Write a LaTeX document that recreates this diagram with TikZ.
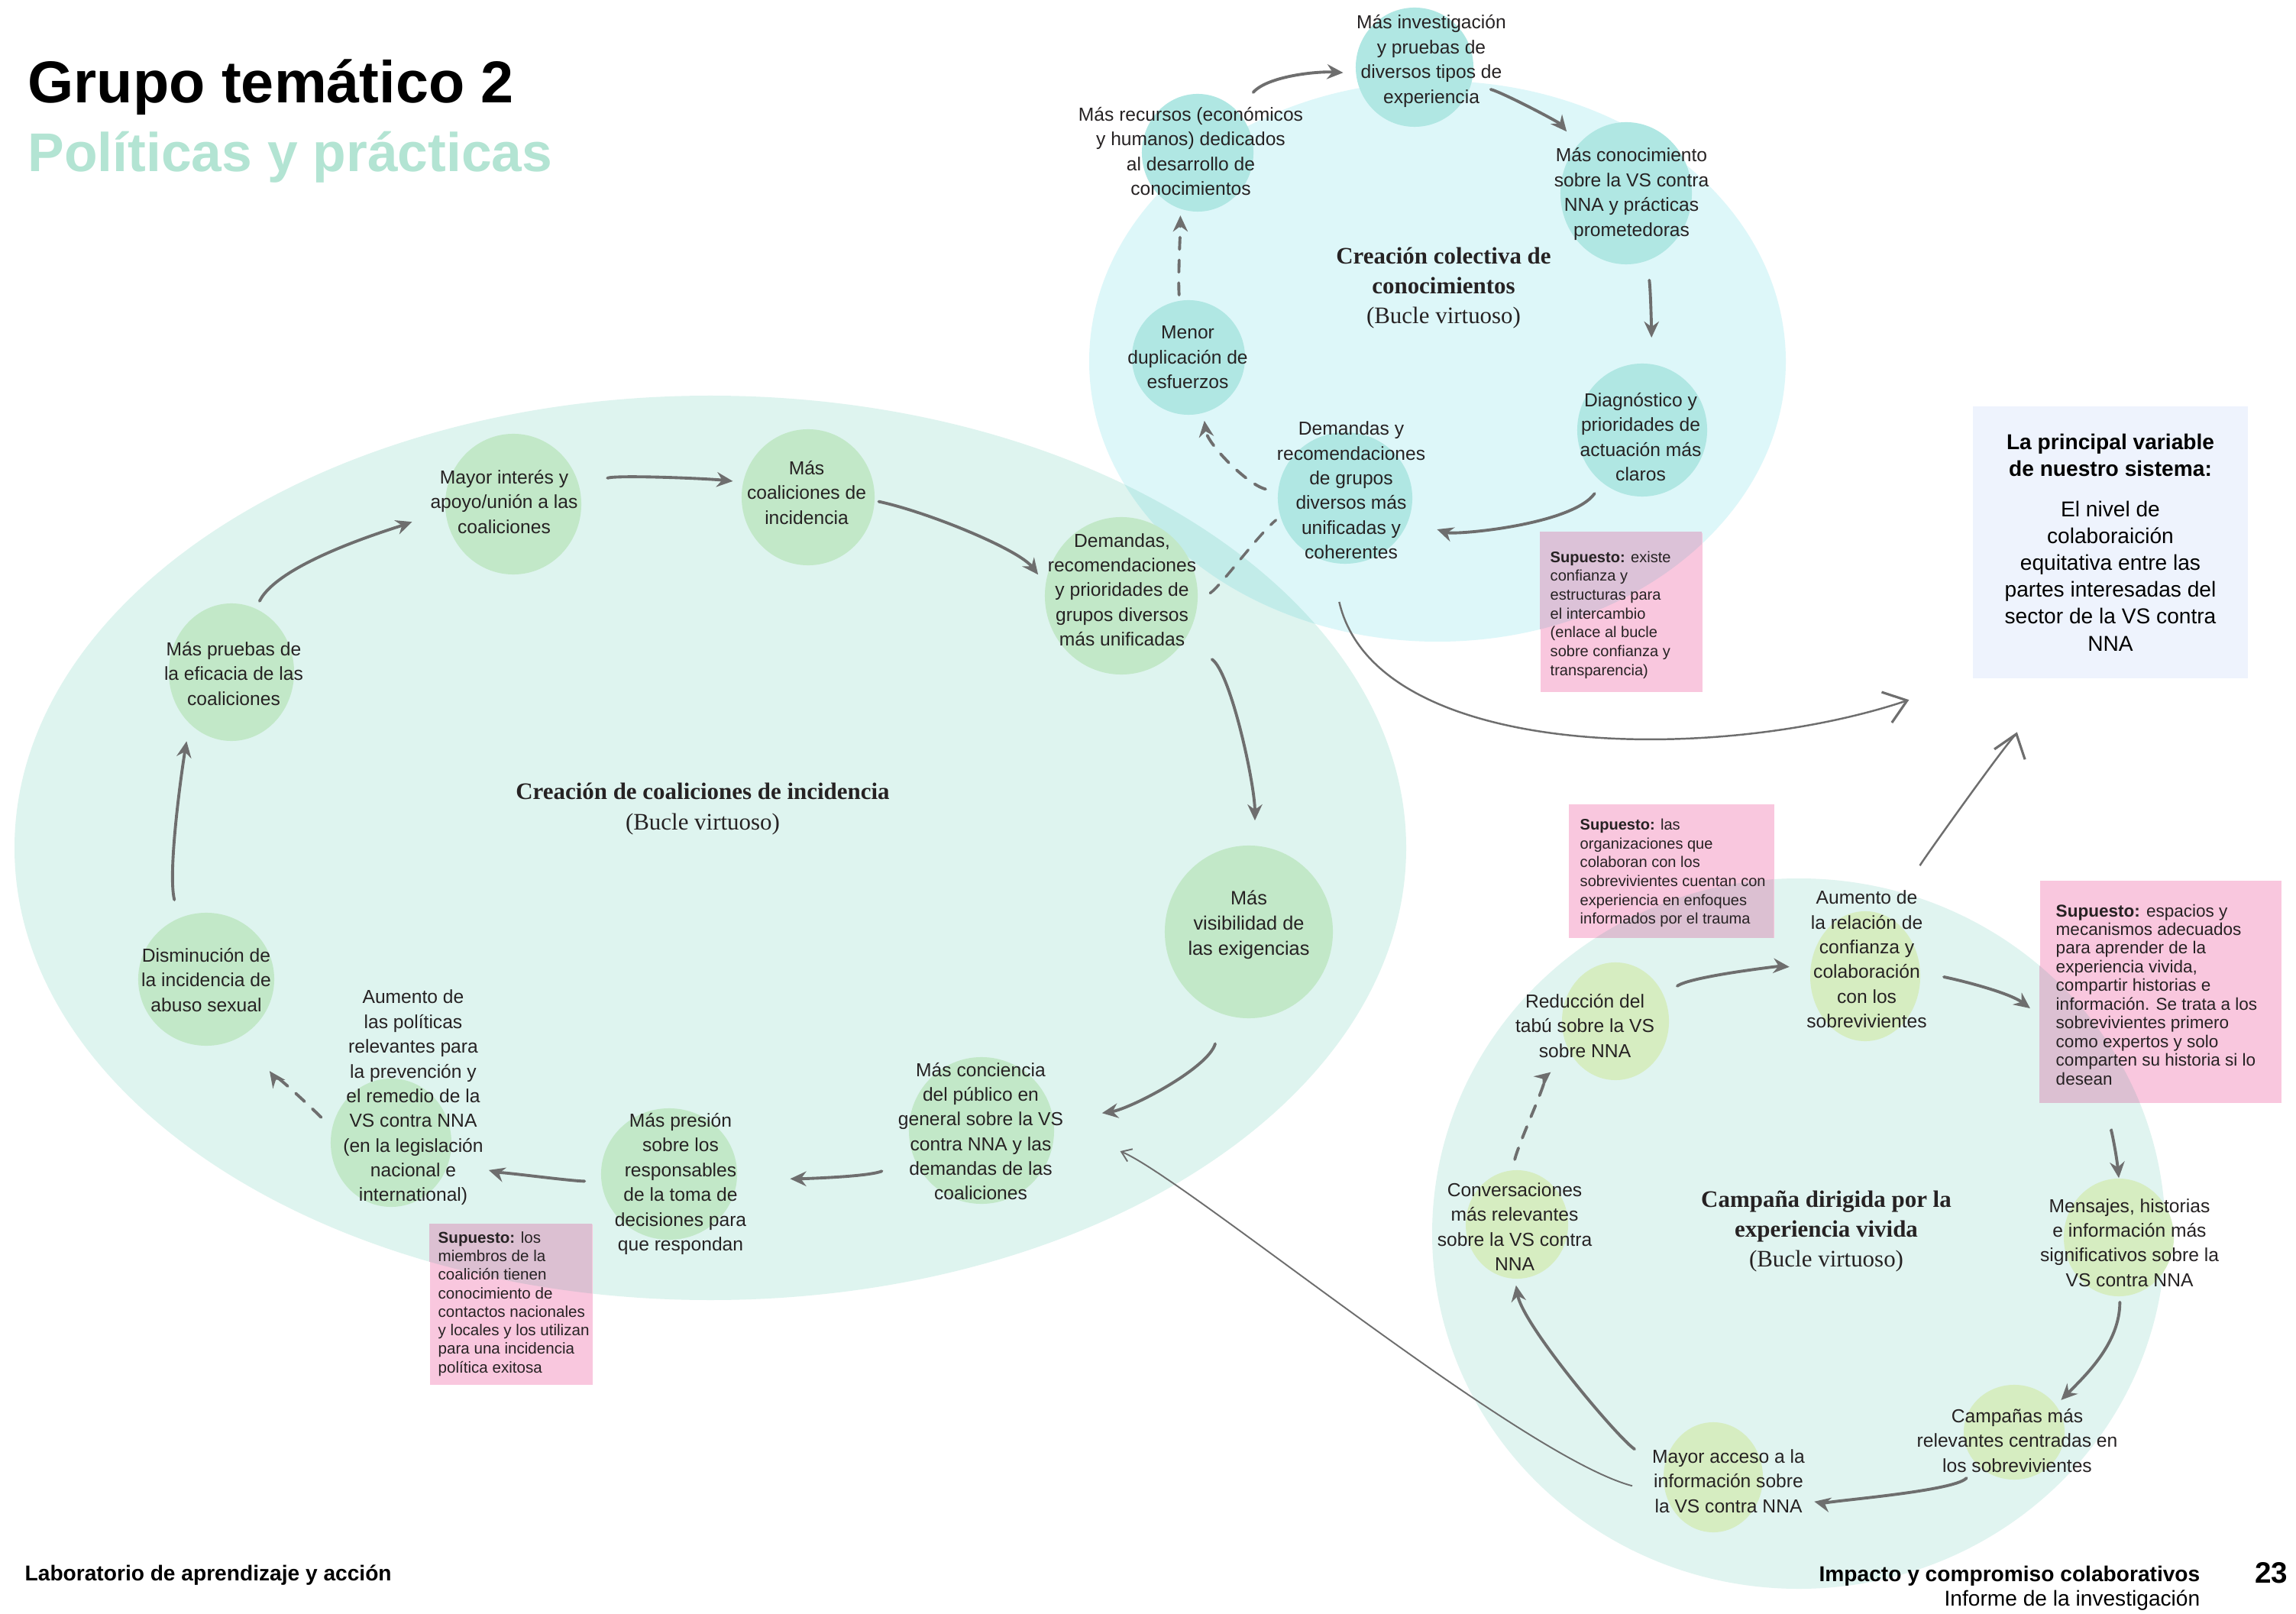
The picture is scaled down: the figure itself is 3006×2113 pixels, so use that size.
\documentclass[tikz,border=0pt]{standalone}
\usepackage{fontspec}
\setmainfont{Liberation Sans}
\newfontfamily\ttlserif{Liberation Serif}
\usetikzlibrary{arrows.meta,shapes.geometric}

\definecolor{leftbg}{RGB}{222,244,239}
\definecolor{topbg}{RGB}{221,247,249}
\definecolor{botbg}{RGB}{224,244,240}
\definecolor{overlapbg}{RGB}{194,236,233}
\definecolor{greenblob}{RGB}{194,232,200}
\definecolor{tealblob}{RGB}{176,231,227}
\definecolor{limeblob}{RGB}{214,237,193}
\definecolor{pinknote}{RGB}{249,199,222}
\definecolor{pinkcyan}{RGB}{220,194,216}
\definecolor{pinkmint}{RGB}{220,192,210}
\definecolor{boxblue}{RGB}{238,243,253}
\definecolor{titlegreen}{RGB}{179,228,211}
\definecolor{arrowgray}{RGB}{110,110,110}
\definecolor{inkc}{RGB}{38,34,35}

\begin{document}
\begin{tikzpicture}[x=0.01cm,y=-0.01cm,
  blob/.style={ellipse, inner sep=0pt, draw=none},
  gblob/.style={blob, fill=greenblob},
  tblob/.style={blob, fill=tealblob},
  lblob/.style={blob, fill=limeblob},
  lbl/.style={align=center, inner sep=0pt, text=inkc, font=\fontsize{7}{9.2}\selectfont},
  looptitle/.style={align=center, inner sep=0pt, text=inkc, font=\ttlserif\fontsize{8.8}{11.2}\selectfont},
  notebox/.style={rectangle, fill=pinknote, inner sep=0pt, anchor=north west},
  notetext/.style={align=left, inner sep=0pt, anchor=west, text=inkc, font=\fontsize{5.7}{7}\selectfont},
  conn/.style={draw=arrowgray, line width=1.1pt, line cap=round, -{Stealth[length=6pt,width=5.5pt,inset=2pt]}},
  dconn/.style={conn, dash pattern=on 4.5pt off 4pt},
  dlink/.style={draw=arrowgray, line width=1pt, line cap=round, dash pattern=on 4.5pt off 4pt},
  thinconn/.style={draw=arrowgray, line width=0.55pt, -{Straight Barb[length=3.5pt,width=5pt]}},
  mainconn/.style={draw=arrowgray, line width=0.7pt, -{Straight Barb[length=8pt,width=12pt,line width=0.9pt]}},
]
\useasboundingbox (0,0) rectangle (3006,2113);
\fill[white] (0,0) rectangle (3006,2113);

% ---------- background loops ----------
\fill[leftbg] (930,1110) ellipse [x radius=911, y radius=592];
\fill[botbg] (2355,1615) ellipse [x radius=480, y radius=465];
\fill[topbg] (1882,473) ellipse [x radius=456, y radius=367];
\begin{scope}
  \clip (930,1110) ellipse [x radius=911, y radius=592];
  \fill[overlapbg] (1882,473) ellipse [x radius=456, y radius=367];
\end{scope}

% ---------- titles ----------
\node[anchor=base west, inner sep=0pt, font=\bfseries\fontsize{22}{26}\selectfont] (ttl) at (36,135) {Grupo temático 2};
\node[anchor=base west, inner sep=0pt, text=titlegreen, font=\bfseries\fontsize{20.3}{24}\selectfont] (sttl) at (36,225) {Políticas y prácticas};

% ---------- blobs: top loop ----------
\node[tblob, minimum width=1.54cm, minimum height=1.56cm] (t1) at (1852,88) {};
\node[tblob, minimum width=1.46cm, minimum height=1.54cm] (t2) at (1568,200) {};
\node[tblob, minimum width=1.72cm, minimum height=1.86cm] (t3) at (2129,253) {};
\node[tblob, minimum width=1.48cm, minimum height=1.50cm] (t5) at (1556,468) {};
\node[tblob, minimum width=1.70cm, minimum height=1.74cm] (t6) at (2150,563) {};
\node[tblob, minimum width=1.76cm, minimum height=1.72cm] (t7) at (1761,652) {};

% ---------- blobs: left loop ----------
\node[gblob, minimum width=1.78cm, minimum height=1.84cm] (l1) at (672,660) {};
\node[gblob, minimum width=1.74cm, minimum height=1.78cm] (l2) at (1058,651) {};
\node[gblob, minimum width=2.00cm, minimum height=2.06cm] (l3) at (1468,780) {};
\node[gblob, minimum width=1.64cm, minimum height=1.80cm] (l4) at (303,880) {};
\node[gblob, minimum width=1.78cm, minimum height=1.74cm] (l5) at (270,1282) {};
\node[gblob, minimum width=1.58cm, minimum height=1.68cm] (l6) at (512,1496) {};
\node[gblob, minimum width=1.78cm, minimum height=1.72cm] (l7) at (876,1537) {};
\node[gblob, minimum width=1.90cm, minimum height=1.92cm] (l8) at (1285,1480) {};
\node[gblob, minimum width=2.20cm, minimum height=2.26cm] (l9) at (1635,1220) {};

% ---------- blobs: bottom loop ----------
\node[lblob, minimum width=1.44cm, minimum height=1.70cm] (b1) at (2442,1278) {};
\node[lblob, minimum width=1.40cm, minimum height=1.54cm] (b2) at (2115,1337) {};
\node[lblob, minimum width=1.44cm, minimum height=1.54cm] (b3) at (2774,1620) {};
\node[lblob, minimum width=1.32cm, minimum height=1.24cm] (b4) at (2637,1875) {};
\node[lblob, minimum width=1.30cm, minimum height=1.44cm] (b5) at (2243,1934) {};
\node[lblob, minimum width=1.34cm, minimum height=1.42cm] (b6) at (1986,1603) {};

% ---------- main variable box ----------
\node[rectangle, fill=boxblue, minimum width=3.59cm, minimum height=3.55cm, align=center, inner sep=0pt,
      font=\fontsize{8}{10}\selectfont] (box) at (2763,710)
  {\textbf{La principal variable}\\\textbf{de nuestro sistema:}\\[5pt]El nivel de\\colaboraición\\equitativa entre las\\partes interesadas del\\sector de la VS contra\\NNA};

% ---------- assumption notes ----------
\node[notebox, minimum width=2.12cm, minimum height=2.08cm] (na) at (2016,697) {};
\begin{scope}
  \clip (2016,697) rectangle (2228,905);
  \fill[pinkcyan] (1882,473) ellipse [x radius=456, y radius=367];
\end{scope}
\node[notetext] (nat) at (2029,805) {\textbf{Supuesto:} existe\\confianza y\\estructuras para\\el intercambio\\(enlace al bucle\\sobre confianza y\\transparencia)};

\node[notebox, minimum width=2.13cm, minimum height=2.10cm] (nb) at (562,1602) {};
\begin{scope}
  \clip (562,1602) rectangle (775,1812);
  \fill[pinkmint] (930,1110) ellipse [x radius=911, y radius=592];
\end{scope}
\node[notetext, font=\fontsize{5.85}{6.9}\selectfont] (nbt) at (573,1707) {\textbf{Supuesto:} los\\miembros de la\\coalición tienen\\conocimiento de\\contactos nacionales\\y locales y los utilizan\\para una incidencia\\política exitosa};

\node[notebox, minimum width=2.69cm, minimum height=1.75cm] (nc) at (2053,1052) {};
\begin{scope}
  \clip (2053,1052) rectangle (2322,1227);
  \fill[pinkmint] (2355,1615) ellipse [x radius=480, y radius=465];
\end{scope}
\node[notetext] (nct) at (2068,1143) {\textbf{Supuesto:} las\\organizaciones que\\colaboran con los\\sobrevivientes cuentan con\\experiencia en enfoques\\informados por el trauma};

\node[notebox, minimum width=3.16cm, minimum height=2.91cm] (nd) at (2670,1152) {};
\begin{scope}
  \clip (2670,1152) rectangle (2986,1443);
  \fill[pinkmint] (2355,1615) ellipse [x radius=480, y radius=465];
\end{scope}
\node[notetext, font=\fontsize{6.4}{6.95}\selectfont] (ndt) at (2691,1302) {\textbf{Supuesto:} espacios y\\mecanismos adecuados\\para aprender de la\\experiencia vivida,\\compartir historias e\\información. Se trata a los\\sobrevivientes primero\\como expertos y solo\\comparten su historia si lo\\desean};

% ---------- text: top loop ----------
\node[lbl] (t1t) at (1874,80) {Más investigación\\y pruebas de\\diversos tipos de\\experiencia};
\node[lbl] (t2t) at (1559,198) {Más recursos (económicos\\y humanos) dedicados\\al desarrollo de\\conocimientos};
\node[lbl] (t3t) at (2136,254) {Más conocimiento\\sobre la VS contra\\NNA y prácticas\\prometedoras};
\node[looptitle] (ttl1) at (1890,377) {\textbf{Creación colectiva de}\\\textbf{conocimientos}\\(Bucle virtuoso)};
\node[lbl] (t5t) at (1555,468) {Menor\\duplicación de\\esfuerzos};
\node[lbl] (t6t) at (2148,572) {Diagnóstico y\\prioridades de\\actuación más\\claros};
\node[lbl] (t7t) at (1769,642) {Demandas y\\recomendaciones\\de grupos\\diversos más\\unificadas y\\coherentes};

% ---------- text: left loop ----------
\node[lbl] (l1t) at (660,657) {Mayor interés y\\apoyo/unión a las\\coaliciones};
\node[lbl] (l2t) at (1056,645) {Más\\coaliciones de\\incidencia};
\node[lbl] (l3t) at (1469,772) {Demandas,\\recomendaciones\\y prioridades de\\grupos diversos\\más unificadas};
\node[lbl] (l4t) at (306,882) {Más pruebas de\\la eficacia de las\\coaliciones};
\node[lbl] (l5t) at (270,1283) {Disminución de\\la incidencia de\\abuso sexual};
\node[lbl] (l6t) at (541,1437) {Aumento de\\las políticas\\relevantes para\\la prevención y\\el remedio de la\\VS contra NNA\\(en la legislación\\nacional e\\international)};
\node[lbl] (l7t) at (891,1550) {Más presión\\sobre los\\responsables\\de la toma de\\decisiones para\\que respondan};
\node[lbl] (l8t) at (1284,1481) {Más conciencia\\del público en\\general sobre la VS\\contra NNA y las\\demandas de las\\coaliciones};
\node[lbl, font=\fontsize{7.2}{9.4}\selectfont] (l9t) at (1635,1211) {Más\\visibilidad de\\las exigencias};
\node[looptitle] (ltl) at (920,1059) {\textbf{Creación de coaliciones de incidencia}\\(Bucle virtuoso)};

% ---------- text: bottom loop ----------
\node[lbl] (b1t) at (2444,1256) {Aumento de\\la relación de\\confianza y\\colaboración\\con los\\sobrevivientes};
\node[lbl] (b2t) at (2075,1343) {Reducción del\\tabú sobre la VS\\sobre NNA};
\node[lbl] (b3t) at (2788,1627) {Mensajes, historias\\e información más\\significativos sobre la\\VS contra NNA};
\node[lbl] (b4t) at (2641,1886) {Campañas más\\relevantes centradas en\\los sobrevivientes};
\node[lbl] (b5t) at (2263,1939) {Mayor acceso a la\\información sobre\\la VS contra NNA};
\node[lbl] (b6t) at (1983,1606) {Conversaciones\\más relevantes\\sobre la VS contra\\NNA};
\node[looptitle] (btl) at (2391,1612) {\textbf{Campaña dirigida por la}\\\textbf{experiencia vivida}\\(Bucle virtuoso)};

% ---------- connectors: top loop ----------
\draw[conn, shorten <=9pt, shorten >=4.6pt] (t2.47) .. controls +(40,-45) and +(-50,-3) .. (t1.186);
\draw[conn, shorten <=7.4pt, shorten >=6.3pt] (t1.-17) .. controls +(40,10) and +(-25,-30) .. (t3.135);
\draw[conn, shorten <=7.1pt, shorten >=9.7pt] (t3.-73) .. controls +(5,40) and +(0,-40) .. (t6.82);
\draw[conn, shorten <=4.8pt, shorten >=11pt] (t6.-127) .. controls +(-40,55) and +(60,20) .. (t7.-19);
\draw[dconn, shorten <=4.6pt, shorten >=2.8pt] (t7.175) .. controls +(-40,-10) and +(5,40) .. (t5.-75);
\draw[dconn, shorten <=2pt, shorten >=2.3pt] (t5.99) .. controls +(-2,-30) and +(0,30) .. (t2.-107);
\draw[dlink, shorten <=5.4pt, shorten >=2pt] (l3.-4) .. controls +(30,-20) and +(-30,25) .. (t7.196);

% ---------- connectors to the main variable ----------
\draw[mainconn, shorten <=15pt, shorten >=25pt] (t7.-103) .. controls +(60,260) and +(-334,112) .. (box.south west);
\draw[mainconn, shorten <=23pt, shorten >=21pt] (b1.58) .. controls +(30,-80) and +(-20,60) .. (box.-119);

% ---------- connectors: left loop ----------
\draw[conn, shorten <=3pt, shorten >=13pt] (l4.69) .. controls +(30,-60) and +(-70,25) .. (l1.185);
\draw[conn, shorten <=10.8pt, shorten >=3.7pt] (l1.15) .. controls +(50,-15) and +(-50,-5) .. (l2.167);
\draw[conn, shorten <=1.4pt, shorten >=4.3pt] (l2.-3) .. controls +(70,15) and +(-35,-45) .. (l3.171);
\draw[conn, shorten <=12.3pt, shorten >=9.2pt] (l3.-35) .. controls +(60,42) and +(0,-80) .. (l9.86);
\draw[conn, shorten <=11.2pt, shorten >=18.1pt] (l9.-107) .. controls +(-20,70) and +(100,-15) .. (l8.8);
\draw[conn, shorten <=12.8pt, shorten >=19.6pt] (l8.-158) .. controls +(-60,25) and +(80,0) .. (l7.-4);
\draw[conn, shorten <=6.1pt, shorten >=15pt] (l7.-174) .. controls +(-40,0) and +(50,15) .. (l6.-15);
\draw[dconn, shorten <=5.6pt, shorten >=16.4pt] (l6.166) .. controls +(-25,-25) and +(25,35) .. (l5.-56);
\draw[conn, shorten <=6.9pt, shorten >=6.5pt] (l5.114) .. controls +(-15,-60) and +(-10,60) .. (l4.-129);

% ---------- connectors: bottom loop ----------
\draw[conn, shorten <=6pt, shorten >=7.7pt] (b2.28) .. controls +(35,-25) and +(-40,-3) .. (b1.172);
\draw[conn, shorten <=8.8pt, shorten >=4.3pt] (b1.4) .. controls +(50,10) and +(-40,-30) .. (nd.191);
\draw[conn, shorten <=10pt] (nd.-114) .. controls +(0,30) and +(-3,-30) .. (b3.north);
\draw[conn, shorten <=2pt, shorten >=2.6pt] (b3.-89) .. controls +(0,60) and +(40,-40) .. (b4.33);
\draw[conn, shorten <=6.2pt, shorten >=19.9pt] (b4.-138) .. controls +(-30,35) and +(70,15) .. (b5.-15);
\draw[conn, shorten <=13pt, shorten >=2.3pt] (b5.170) .. controls +(-60,-40) and +(10,60) .. (b6.-92);
\draw[dconn, shorten <=4pt, shorten >=9.8pt] (b6.95) .. controls +(10,-40) and +(-25,20) .. (b2.-142);
\draw[thinconn, shorten <=12.8pt, shorten >=26.5pt] (b5.-160) .. controls +(-190,-50) and +(170,70) .. (l8.5);

% ---------- footer ----------
\node[anchor=base west, inner sep=0pt, font=\bfseries\fontsize{8}{9.6}\selectfont] (foot1) at (32,2069) {Laboratorio de aprendizaje y acción};
\node[anchor=base east, inner sep=0pt, font=\bfseries\fontsize{8}{9.6}\selectfont] (foot2) at (2881,2070) {Impacto y compromiso colaborativos};
\node[anchor=base east, inner sep=0pt, font=\fontsize{8}{9.6}\selectfont] (foot3) at (2881,2102) {Informe de la investigación};
\node[anchor=base east, inner sep=0pt, font=\bfseries\fontsize{11}{13}\selectfont] (pg) at (2996,2072) {23};
\end{tikzpicture}
\end{document}
